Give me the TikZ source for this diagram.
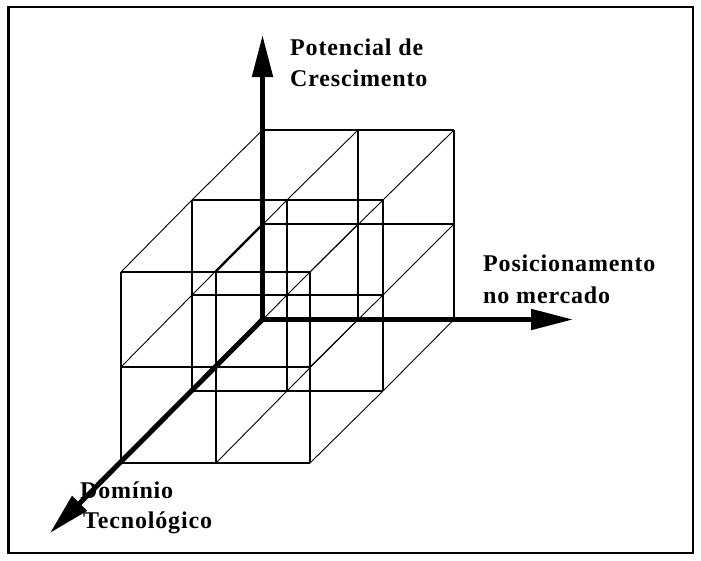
\documentclass[tikz,border=0pt]{standalone}
\usepackage{fontspec}
\setmainfont{Liberation Serif}
\newfontfamily\lblfont{Liberation Serif}[LetterSpace=3.5]
\usetikzlibrary{arrows.meta}
\tikzset{
  gridline/.style={line width=1.6pt, black},
  depthline/.style={line width=0.9pt, black},
  axisline/.style={line width=5pt, black, -{Triangle[length=42pt,width=20pt]}},
  lbl/.style={inner sep=0pt, anchor=base west, font=\lblfont\bfseries\fontsize{24}{31}\selectfont},
  framebox/.style={line width=2.6pt, black}
}
\begin{document}
\begin{tikzpicture}[x=1pt,y=-1pt]
\useasboundingbox (0,0) rectangle (701,560);
\draw[framebox] (8.5,7) rectangle (693,553);
% grid coordinates: back (b), middle (m), front (f)
\foreach \i/\xb/\xm/\xf in {0/262.5/192/121, 1/358/287/216, 2/454/383/310}{
  \foreach \j/\yb/\ym/\yf in {0/130/200/272, 1/224/295/367, 2/319.5/391/463}{
    \coordinate (b-\i-\j) at (\xb,\yb);
    \coordinate (m-\i-\j) at (\xm,\ym);
    \coordinate (f-\i-\j) at (\xf,\yf);
  }
}
% faces
\foreach \p in {b,m,f}{
  \foreach \k in {0,1,2}{
    \draw[gridline] (\p-0-\k) -- (\p-2-\k);
    \draw[gridline] (\p-\k-0) -- (\p-\k-2);
  }
}
% depth lines
\foreach \i in {0,1,2}{
  \foreach \j in {0,1,2}{
    \draw[depthline] (b-\i-\j) -- (m-\i-\j) -- (f-\i-\j);
  }
}
\coordinate (thA) at (260,227);
\coordinate (thB) at (216,271);
\draw[line width=2.2pt] (thA) -- (thB);
% axes
\coordinate (O) at (262.5,319.5);
\coordinate (tipV) at (262.5,35);
\coordinate (tipH) at (573,319.5);
\coordinate (tipD) at (50,533);
\draw[axisline] (O) -- (tipV);
\draw[axisline] (O) -- (tipH);
\draw[axisline] (O) -- (tipD);
% labels
\node[lbl] (pc1) at (290,55) {Potencial de};
\node[lbl] (pc2) at (290,86.5) {Crescimento};
\node[lbl] (pm1) at (483,271.5) {Posicionamento};
\node[lbl] (pm2) at (483,303) {no mercado};
\node[lbl] (dt1) at (80,498) {Domínio};
\node[lbl] (dt2) at (83,528) {Tecnológico};
\end{tikzpicture}
\end{document}
